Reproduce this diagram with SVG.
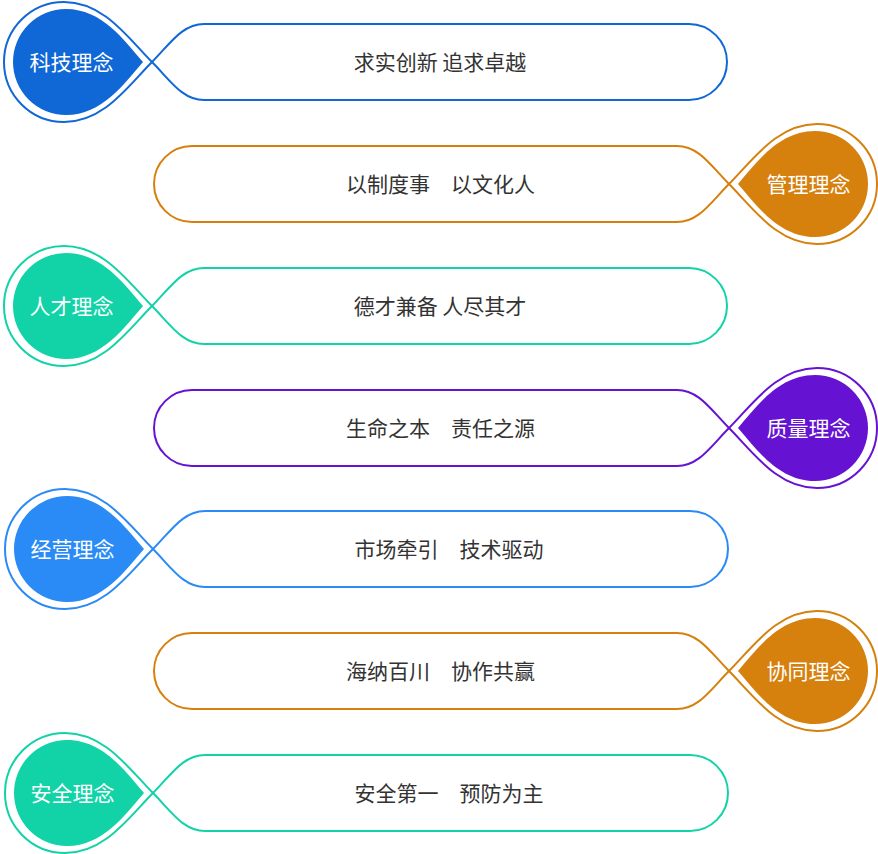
<svg xmlns="http://www.w3.org/2000/svg" xmlns:xlink="http://www.w3.org/1999/xlink" width="878" height="854" viewBox="0 0 878 854">
<defs>
<style>
.ln{fill:none;stroke-width:2}
.lbl{font-family:"Noto Sans CJK SC","Noto Sans",sans-serif;font-size:21px;fill:#ffffff;text-anchor:middle;dominant-baseline:central}
.txt{font-family:"Noto Sans CJK SC","Noto Sans",sans-serif;font-size:21px;fill:#333333;text-anchor:middle;dominant-baseline:central}
.c1{stroke:#1068d6;fill:#1068d6}
.c2{stroke:#d6800e;fill:#d6800e}
.c3{stroke:#12d3a8;fill:#12d3a8}
.c4{stroke:#6512d2;fill:#6512d2}
.c5{stroke:#2a8bf6;fill:#2a8bf6}
</style>
<path id="outer" d="M152,0 C128,-24 104,-60 64,-60 A60,60 0 0 0 64,60 C104,60 128,24 152,0"/>
<path id="inner" d="M143,0 C124,-22 102,-53 66,-53 A53,53 0 0 0 66,53 C102,53 124,22 143,0 Z"/>
<path id="cap" d="M152,0 C170,-18 182,-38 204,-38 L689,-38 A38,38 0 0 1 689,38 L204,38 C182,38 170,18 152,0 Z"/>
</defs>

<g id="node-keji" transform="translate(0,62)">
<g class="c1"><use xlink:href="#outer" class="ln"/><use xlink:href="#cap" class="ln"/><use xlink:href="#inner" stroke="none"/></g>
<text class="lbl" x="71.5" y="-1.5">科技理念</text>
<text class="txt" x="440" y="-1.5">求实创新 追求卓越</text>
</g>

<g id="node-guanli" transform="translate(0,184)">
<g class="c2" transform="translate(881,0) scale(-1,1)"><use xlink:href="#outer" class="ln"/><use xlink:href="#cap" class="ln"/><use xlink:href="#inner" stroke="none"/></g>
<text class="lbl" x="808.5" y="-1.5">管理理念</text>
<text class="txt" x="440.5" y="-1.5">以制度事　以文化人</text>
</g>

<g id="node-rencai" transform="translate(0,306)">
<g class="c3"><use xlink:href="#outer" class="ln"/><use xlink:href="#cap" class="ln"/><use xlink:href="#inner" stroke="none"/></g>
<text class="lbl" x="71.5" y="-1.5">人才理念</text>
<text class="txt" x="440" y="-1.5">德才兼备 人尽其才</text>
</g>

<g id="node-zhiliang" transform="translate(0,428)">
<g class="c4" transform="translate(881,0) scale(-1,1)"><use xlink:href="#outer" class="ln"/><use xlink:href="#cap" class="ln"/><use xlink:href="#inner" stroke="none"/></g>
<text class="lbl" x="808.5" y="-1.5">质量理念</text>
<text class="txt" x="440.5" y="-1.5">生命之本　责任之源</text>
</g>

<g id="node-jingying" transform="translate(1,549)">
<g class="c5"><use xlink:href="#outer" class="ln"/><use xlink:href="#cap" class="ln"/><use xlink:href="#inner" stroke="none"/></g>
<text class="lbl" x="71.5" y="-1.5">经营理念</text>
<text class="txt" x="448" y="-1.5">市场牵引　技术驱动</text>
</g>

<g id="node-xietong" transform="translate(0,671)">
<g class="c2" transform="translate(881,0) scale(-1,1)"><use xlink:href="#outer" class="ln"/><use xlink:href="#cap" class="ln"/><use xlink:href="#inner" stroke="none"/></g>
<text class="lbl" x="808.5" y="-1.5">协同理念</text>
<text class="txt" x="440.5" y="-1.5">海纳百川　协作共赢</text>
</g>

<g id="node-anquan" transform="translate(1,793)">
<g class="c3"><use xlink:href="#outer" class="ln"/><use xlink:href="#cap" class="ln"/><use xlink:href="#inner" stroke="none"/></g>
<text class="lbl" x="71.5" y="-1.5">安全理念</text>
<text class="txt" x="448" y="-1.5">安全第一　预防为主</text>
</g>
</svg>
